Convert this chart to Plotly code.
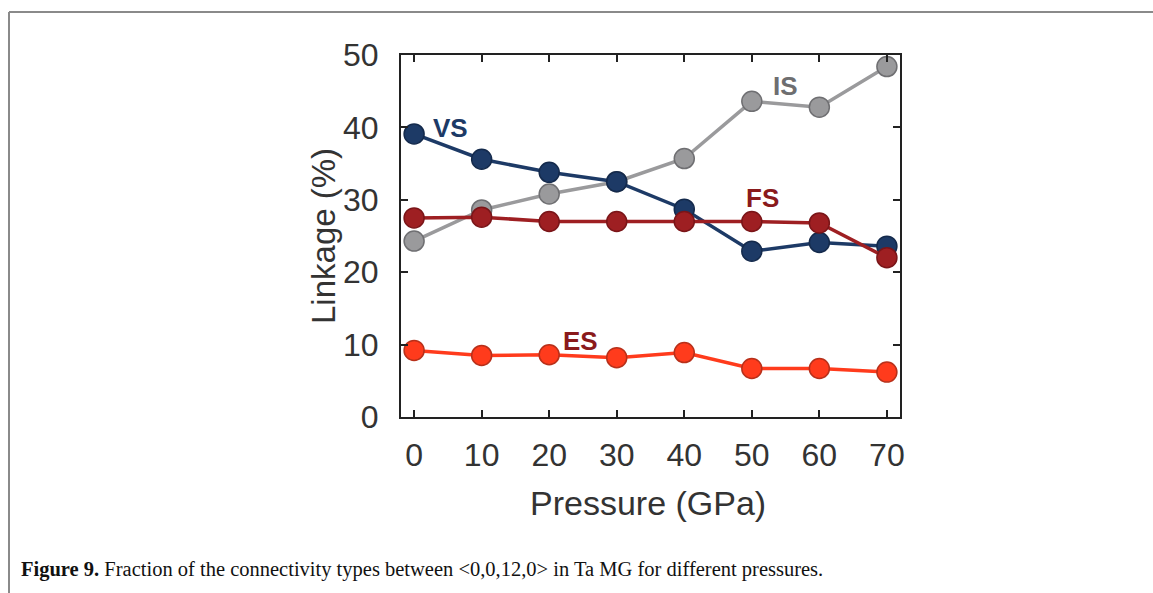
import plotly.graph_objects as go

pressure = [0, 10, 20, 30, 40, 50, 60, 70]
vs = [39.1, 35.6, 33.8, 32.5, 28.7, 22.9, 24.1, 23.6]
is_ = [24.3, 28.6, 30.8, 32.5, 35.7, 43.6, 42.8, 48.4]
fs = [27.5, 27.6, 27.0, 27.0, 27.0, 27.0, 26.8, 22.0]
es = [9.2, 8.5, 8.6, 8.2, 8.9, 6.7, 6.7, 6.2]
x_ticks = [0, 10, 20, 30, 40, 50, 60, 70]
y_ticks = [0, 10, 20, 30, 40, 50]

W, H = 1153, 593
L, R, T, B = 401, 900, 55, 417

def px(x):
    return (x - L) / (R - L)

def py(y):
    return (B - y) / (B - T)

fig = go.Figure()

series = [
    ("IS", is_, "#9a9a9c", "#6f6f72"),
    ("VS", vs, "#1d3a66", "#142a4c"),
    ("FS", fs, "#9e1f22", "#7a1518"),
    ("ES", es, "#ff3b1c", "#b8301a"),
]
for name, vals, col, edge in series:
    fig.add_trace(go.Scatter(
        x=pressure, y=vals, mode="lines+markers", name=name,
        line=dict(color=col, width=3.5),
        marker=dict(size=20, color=col, line=dict(color=edge, width=1.5)),
        showlegend=False, cliponaxis=False,
    ))

axis_common = dict(
    showgrid=False, zeroline=False, showline=True, linecolor="#222",
    linewidth=2, mirror="allticks", ticks="inside", ticklen=7,
    tickcolor="#222", tickwidth=1.5,
    tickfont=dict(family="Liberation Sans, Arial, sans-serif", size=32, color="#333"),
)
fig.update_xaxes(range=[-1.94, 71.94], tickvals=x_ticks, ticklabelstandoff=9, **axis_common)
fig.update_yaxes(range=[0, 50], tickvals=y_ticks, ticklabelstandoff=14, **axis_common)

lab_font = "Liberation Sans, Arial, sans-serif"
ann = [
    dict(text="<b>VS</b>", x=5.4, y=39.9, font=dict(size=26, color="#1d3a66", family=lab_font)),
    dict(text="<b>IS</b>", x=55.0, y=45.7, font=dict(size=26, color="#6e6e70", family=lab_font)),
    dict(text="<b>FS</b>", x=51.6, y=30.2, font=dict(size=26, color="#8a1a1c", family=lab_font)),
    dict(text="<b>ES</b>", x=24.6, y=10.5, font=dict(size=26, color="#8a1a1c", family=lab_font)),
]
for a in ann:
    fig.add_annotation(xref="x", yref="y", showarrow=False,
                       xanchor="center", yanchor="middle", **a)

fig.add_annotation(xref="paper", yref="paper", x=px(648), y=py(503),
                   xanchor="center", yanchor="middle",
                   text="Pressure (GPa)", showarrow=False,
                   font=dict(family=lab_font, size=34, color="#333"))
fig.add_annotation(xref="paper", yref="paper", x=px(323), y=py(236),
                   xanchor="center", yanchor="middle",
                   text="Linkage (%)", showarrow=False, textangle=-90,
                   font=dict(family=lab_font, size=33, color="#333"))
fig.add_annotation(xref="paper", yref="paper", x=px(19), y=py(569),
                   xanchor="left", yanchor="middle", showarrow=False,
                   text="<b>Figure 9.</b> Fraction of the connectivity types between &lt;0,0,12,0&gt; in Ta MG for different pressures.",
                   font=dict(family="Liberation Serif, Times New Roman, serif", size=20.5, color="#111"))

# page frame
fig.add_shape(type="line", xref="paper", yref="paper", x0=px(9), x1=px(1160),
              y0=py(12), y1=py(12), line=dict(color="#8a8a8a", width=2))
fig.add_shape(type="line", xref="paper", yref="paper", x0=px(9), x1=px(9),
              y0=py(12), y1=py(600), line=dict(color="#8a8a8a", width=2))

fig.update_layout(
    width=W, height=H,
    margin=dict(l=L, r=W - R, t=T, b=H - B, pad=0),
    plot_bgcolor="white", paper_bgcolor="white",
)
fig.write_html("out.html", config={"displayModeBar": False},
               post_script="document.body.style.margin='0';document.body.style.overflow='hidden';")
